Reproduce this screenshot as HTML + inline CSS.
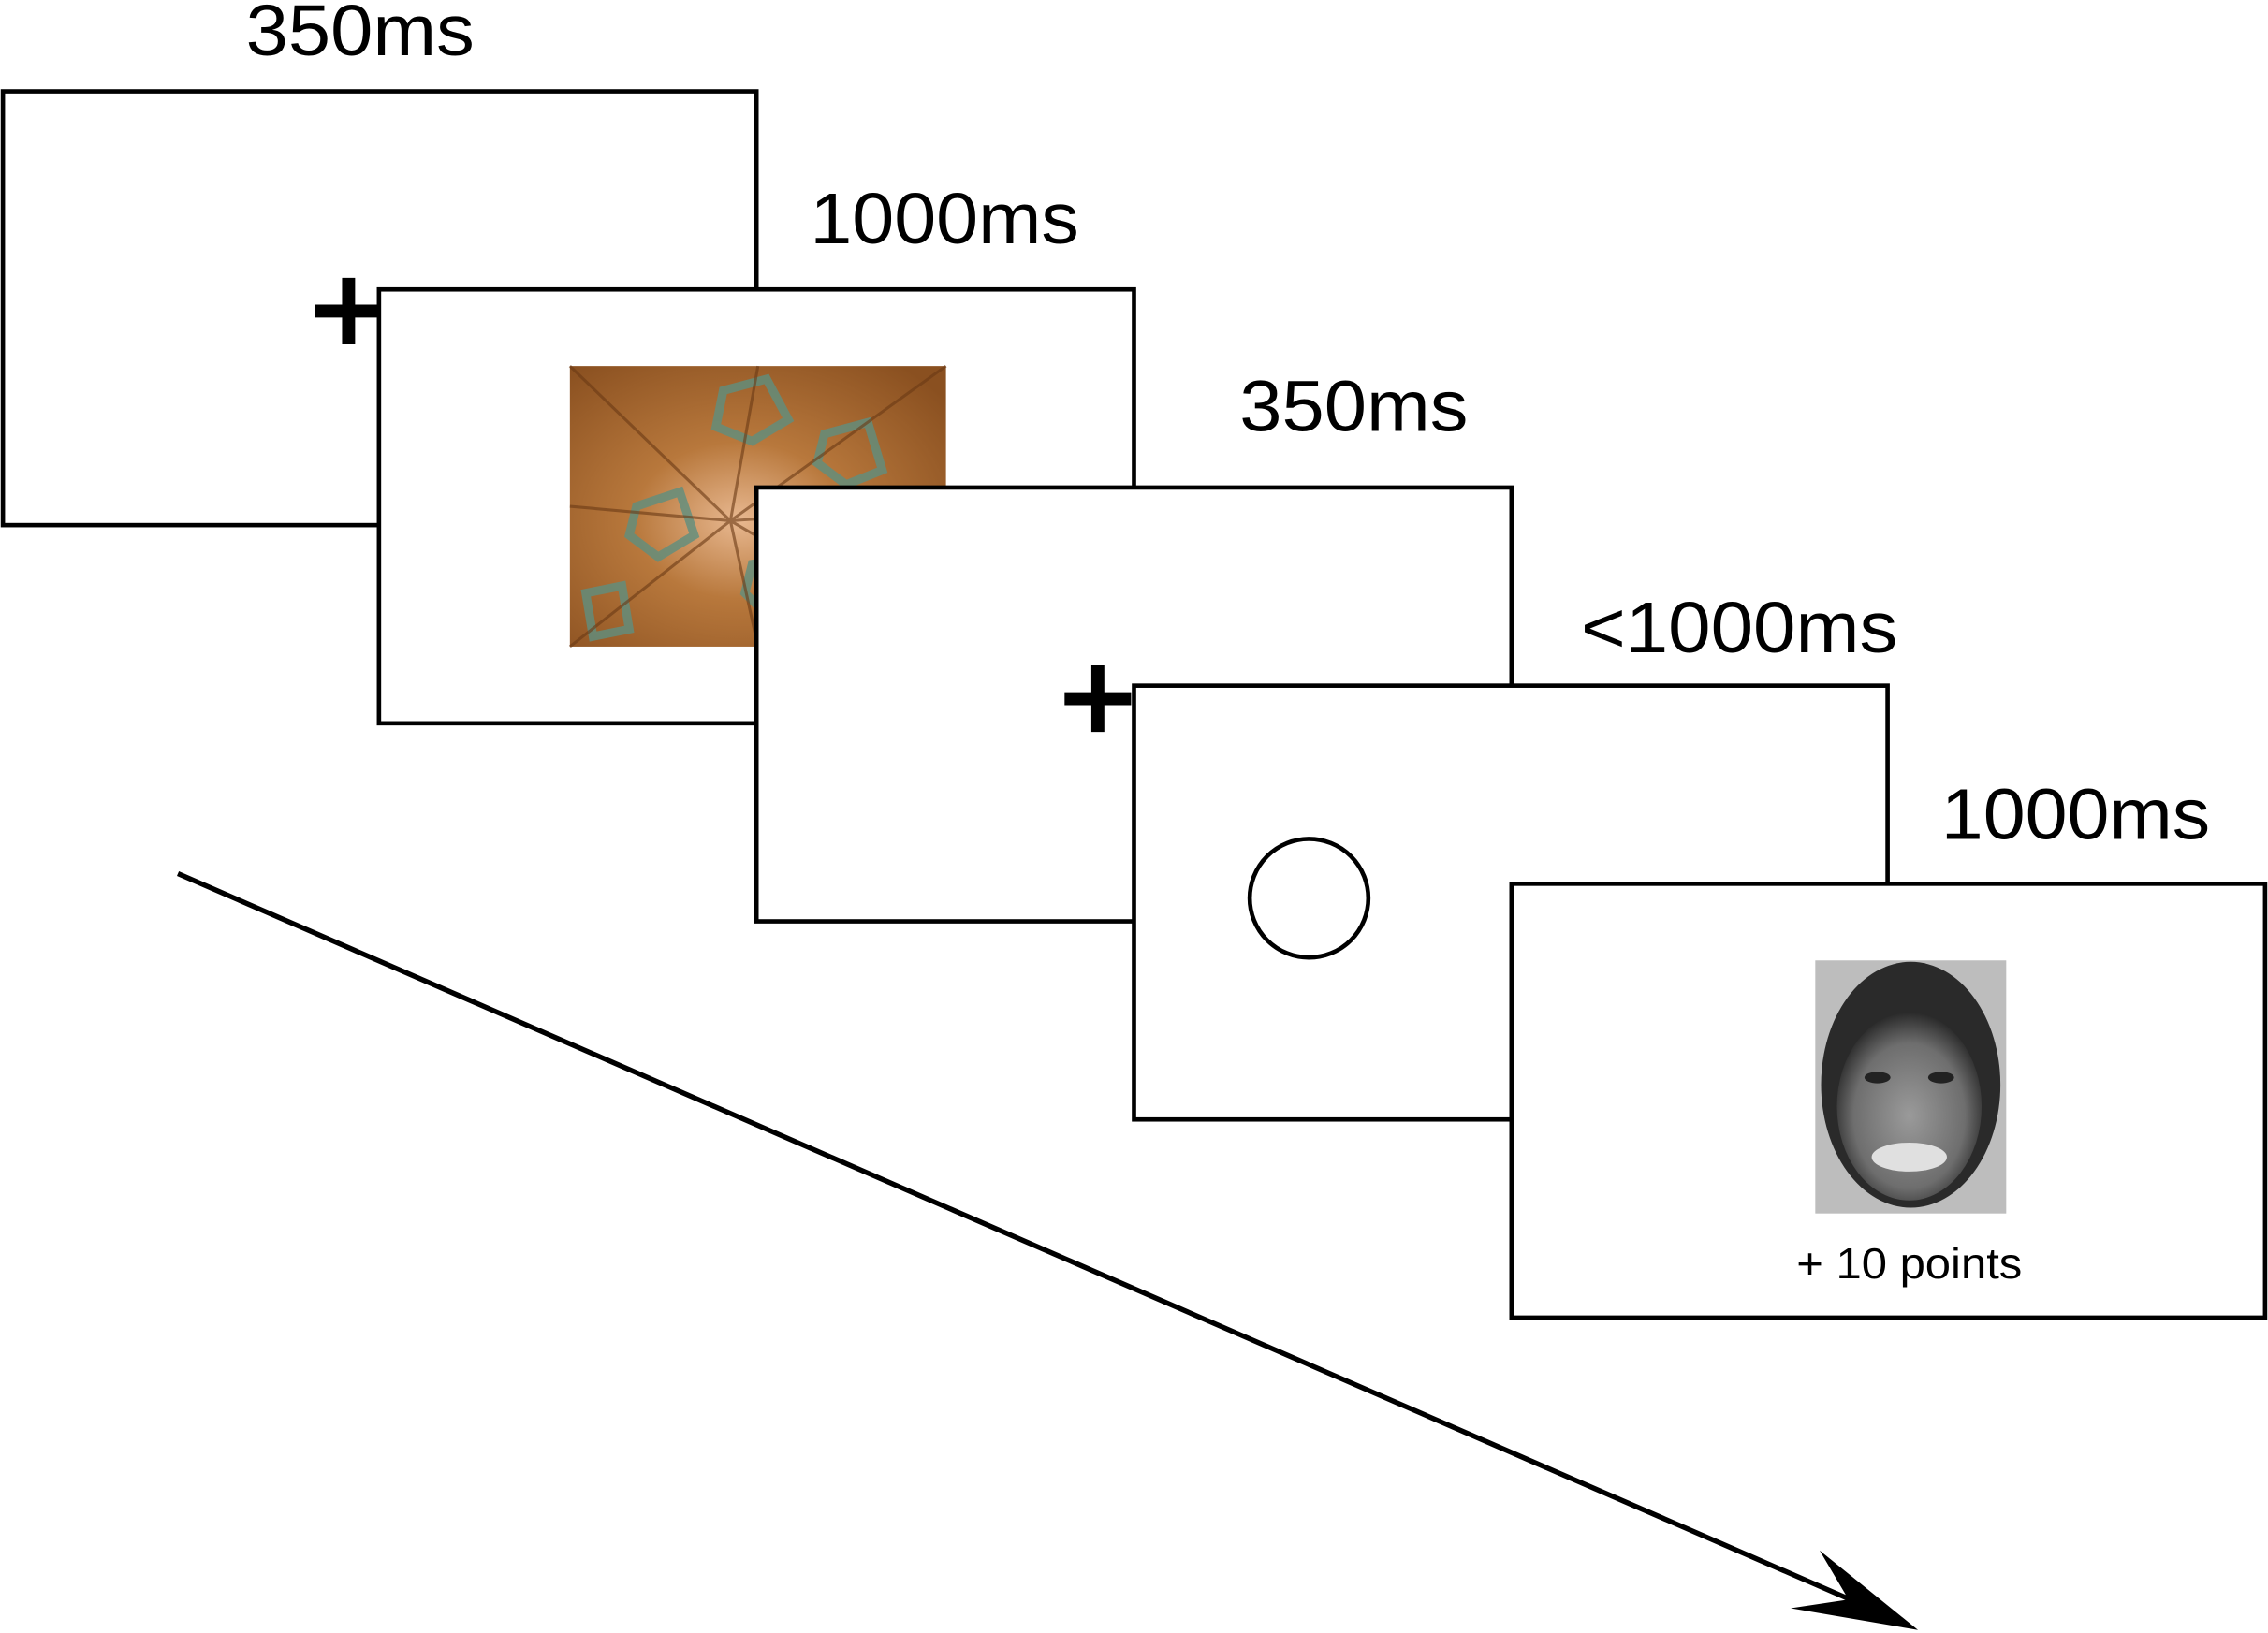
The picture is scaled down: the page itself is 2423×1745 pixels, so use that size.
<!DOCTYPE html>
<html><head><meta charset="utf-8"><style>
html,body{margin:0;padding:0;background:#fff;}
svg{display:block;}
text{font-family:"Liberation Sans",Arial,sans-serif;fill:#000;}
</style></head><body>
<svg width="2423" height="1745" viewBox="0 0 1568 1129" xmlns="http://www.w3.org/2000/svg">
<defs>
<radialGradient id="mos" cx="45%" cy="55%" r="70%">
<stop offset="0" stop-color="#e8b890"/><stop offset="0.4" stop-color="#b8783c"/><stop offset="1" stop-color="#8a5020"/>
</radialGradient>
<radialGradient id="face" cx="50%" cy="55%" r="55%">
<stop offset="0" stop-color="#9a9a9a"/><stop offset="0.7" stop-color="#6e6e6e"/><stop offset="1" stop-color="#2a2a2a"/>
</radialGradient>
</defs>
<rect x="2" y="63" width="521" height="300" fill="#fff" stroke="#000" stroke-width="3"/>
<path d="M218 215h46M241 192v46" stroke="#000" stroke-width="9"/>
<rect x="262" y="200" width="522" height="300" fill="#fff" stroke="#000" stroke-width="3"/>
<g>
<rect x="394" y="253" width="260" height="194" fill="url(#mos)"/>
<g fill="none" stroke="#5f8f7f" stroke-width="6" opacity="0.8">
<polygon points="500,270 530,262 545,290 520,305 495,295"/>
<polygon points="440,350 470,340 480,370 455,385 435,370"/>
<polygon points="570,300 600,292 610,325 585,335 565,320"/>
<polygon points="520,390 550,385 555,415 530,425 515,410"/>
<polygon points="405,410 430,405 435,435 410,440"/>
<polygon points="600,380 630,375 640,405 610,415"/>
</g>
<g stroke="#6b3a15" stroke-width="2" opacity="0.6">
<path d="M505 360L394 253M505 360L654 253M505 360L394 447M505 360L654 447M505 360L524 253M505 360L524 447M505 360L394 350M505 360L654 350"/>
</g>
</g>
<rect x="523" y="337" width="522" height="300" fill="#fff" stroke="#000" stroke-width="3"/>
<path d="M736 483h46M759 460v46" stroke="#000" stroke-width="9"/>
<rect x="784" y="474" width="521" height="300" fill="#fff" stroke="#000" stroke-width="3"/>
<circle cx="905" cy="621" r="41" fill="none" stroke="#000" stroke-width="3"/>
<rect x="1045" y="611" width="521" height="300" fill="#fff" stroke="#000" stroke-width="3"/>
<g>
<rect x="1255" y="664" width="132" height="175" fill="#bdbdbd"/>
<ellipse cx="1321" cy="750" rx="62" ry="85" fill="#2a2a2a"/>
<ellipse cx="1320" cy="765" rx="50" ry="65" fill="url(#face)"/>
<ellipse cx="1320" cy="800" rx="26" ry="10" fill="#e0e0e0"/>
<ellipse cx="1298" cy="745" rx="9" ry="4" fill="#222"/>
<ellipse cx="1342" cy="745" rx="9" ry="4" fill="#222"/>
</g>
<text x="1242" y="884" font-size="30" textLength="156" lengthAdjust="spacingAndGlyphs">+ 10 points</text>
<text x="170" y="38" font-size="50" textLength="158" lengthAdjust="spacingAndGlyphs">350ms</text>
<text x="560" y="168" font-size="50" textLength="186" lengthAdjust="spacingAndGlyphs">1000ms</text>
<text x="857" y="298" font-size="50" textLength="158" lengthAdjust="spacingAndGlyphs">350ms</text>
<text x="1093" y="451" font-size="50" textLength="219" lengthAdjust="spacingAndGlyphs">&lt;1000ms</text>
<text x="1342" y="580" font-size="50" textLength="186" lengthAdjust="spacingAndGlyphs">1000ms</text>
<g>
<line x1="123" y1="604" x2="1300" y2="1115" stroke="#000" stroke-width="3.5"/>
<polygon points="1326,1127 1258,1072 1278,1106 1238,1112" fill="#000"/>
</g>
</svg>
</body></html>
